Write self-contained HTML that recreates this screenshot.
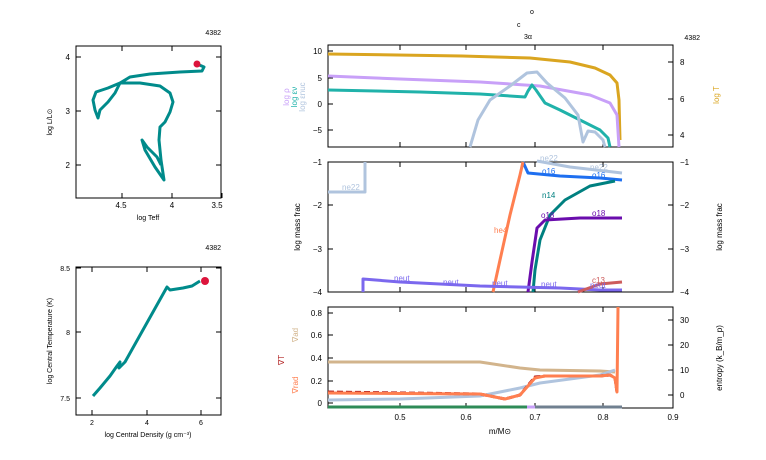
<!DOCTYPE html>
<html><head><meta charset="utf-8"><style>
html,body{margin:0;padding:0;background:#fff;}
svg{display:block;font-family:"Liberation Sans",sans-serif;}
</style></head><body>
<svg width="766" height="460" viewBox="0 0 766 460" xmlns="http://www.w3.org/2000/svg">
<g fill="none" stroke="#000" stroke-width="1">
<rect x="76" y="46" width="145" height="152"/>
<rect x="76" y="267" width="145" height="148"/>
<rect x="328" y="45" width="345" height="102"/>
<rect x="328" y="162" width="345" height="130"/>
<rect x="328" y="307" width="345" height="101"/>
<path d="M122,198v-5M172,198v-5M222,198v-5M76,57h5M76,111h5M76,165h5M221,57h-5M221,111h-5M221,165h-5M122,46v5M172,46v5"/>
<path d="M92,415v-5M147,415v-5M201,415v-5M76,268h5M76,332h5M76,398h5M221,268h-5M221,332h-5M221,398h-5M92,267v5M147,267v5M201,267v5"/>
<path d="M400,408v-5M466,408v-5M535,408v-5M603,408v-5M400,307v5M466,307v5M535,307v5M603,307v5M400,292v-5M466,292v-5M535,292v-5M603,292v-5M400,162v5M466,162v5M535,162v5M603,162v5M400,147v-5M466,147v-5M535,147v-5M603,147v-5M400,45v5M466,45v5M535,45v5M603,45v5"/>
<path d="M328,51h5M328,78h5M328,104h5M328,130h5M673,62h-5M673,99h-5M673,135h-5"/>
<path d="M328,205h5M328,249h5M673,205h-5M673,249h-5"/>
<path d="M328,313h5M328,335h5M328,358h5M328,381h5M328,403h5M673,320h-5M673,345h-5M673,370h-5M673,395h-5"/>
</g>
<g font-size="8" fill="#000">
<text x="121" y="208" text-anchor="middle">4.5</text><text x="172" y="208" text-anchor="middle">4</text><text x="217" y="208" text-anchor="middle">3.5</text>
<text x="70" y="60" text-anchor="end">4</text><text x="70" y="114" text-anchor="end">3</text><text x="70" y="168" text-anchor="end">2</text>
<text x="148" y="220" text-anchor="middle" font-size="7">log Teff</text>
<text x="52" y="122" font-size="7" transform="rotate(-90 52 122)" text-anchor="middle">log L/L⊙</text>
<text x="221" y="35" text-anchor="end" font-size="7">4382</text>
<text x="221" y="250" text-anchor="end" font-size="7">4382</text>
<text x="70" y="271" text-anchor="end" font-size="7">8.5</text><text x="70" y="335" text-anchor="end" font-size="7">8</text><text x="70" y="401" text-anchor="end" font-size="7">7.5</text>
<text x="92" y="425" text-anchor="middle" font-size="7">2</text><text x="147" y="425" text-anchor="middle" font-size="7">4</text><text x="201" y="425" text-anchor="middle" font-size="7">6</text>
<text x="148" y="437" text-anchor="middle" font-size="7">log Central Density (g cm⁻³)</text>
<text x="52" y="341" font-size="7" transform="rotate(-90 52 341)" text-anchor="middle">log Central Temperature (K)</text>
<text x="700" y="40" text-anchor="end" font-size="7">4382</text>
<text x="530" y="14" font-size="7">o</text><text x="517" y="27" font-size="7">c</text><text x="524" y="39" font-size="7">3α</text>
<text x="322" y="54" text-anchor="end">10</text><text x="322" y="81" text-anchor="end">5</text><text x="322" y="107" text-anchor="end">0</text><text x="322" y="133" text-anchor="end">−5</text>
<text x="680" y="65">8</text><text x="680" y="102">6</text><text x="680" y="138">4</text>
<text x="322" y="165" text-anchor="end">−1</text><text x="322" y="208" text-anchor="end">−2</text><text x="322" y="252" text-anchor="end">−3</text><text x="322" y="295" text-anchor="end">−4</text>
<text x="680" y="165">−1</text><text x="680" y="208">−2</text><text x="680" y="252">−3</text><text x="680" y="295">−4</text>
<text x="322" y="316" text-anchor="end">0.8</text><text x="322" y="338" text-anchor="end">0.6</text><text x="322" y="361" text-anchor="end">0.4</text><text x="322" y="384" text-anchor="end">0.2</text><text x="322" y="406" text-anchor="end">0</text>
<text x="680" y="323">30</text><text x="680" y="348">20</text><text x="680" y="373">10</text><text x="680" y="398">0</text>
<text x="400" y="420" text-anchor="middle">0.5</text><text x="466" y="420" text-anchor="middle">0.6</text><text x="535" y="420" text-anchor="middle">0.7</text><text x="603" y="420" text-anchor="middle">0.8</text><text x="673" y="420" text-anchor="middle">0.9</text>
<text x="500" y="434" text-anchor="middle">m/M⊙</text>
<text x="300" y="227" transform="rotate(-90 300 227)" text-anchor="middle">log mass frac</text>
<text x="722" y="227" transform="rotate(-90 722 227)" text-anchor="middle">log mass frac</text>
<text x="722" y="358" transform="rotate(-90 722 358)" text-anchor="middle">entropy (k_B/m_p)</text>
<text x="719" y="95" transform="rotate(-90 719 95)" text-anchor="middle" fill="#daa520">log T</text>
<text x="289" y="97" transform="rotate(-90 289 97)" text-anchor="middle" fill="#c8a0f8">log ρ</text>
<text x="297" y="97" transform="rotate(-90 297 97)" text-anchor="middle" fill="#20b2aa">log εν</text>
<text x="305" y="97" transform="rotate(-90 305 97)" text-anchor="middle" fill="#b0c4de">log εnuc</text>
<text x="298" y="335" transform="rotate(-90 298 335)" text-anchor="middle" fill="#d2b48c">∇ad</text>
<text x="284" y="360" transform="rotate(-90 284 360)" text-anchor="middle" fill="#b22222">∇T</text>
<text x="298" y="385" transform="rotate(-90 298 385)" text-anchor="middle" fill="#ff7f50">∇rad</text>
</g>
<g fill="none" stroke-width="3" stroke-linejoin="round">
<polyline stroke="#008b8b" points="197,64 204,67 202,71 180,72 150,74 130,77 120,83 108,88 96,92 93,100 95,110 98,118 100,110 108,102 115,93 120,83 140,83 160,86 170,93 173,102 170,112 165,122 160,127 159,140 161,160 164,180 155,167 145,150 142,140 147,147 157,157 161,165"/>
<polyline stroke="#008b8b" points="93,396 100,388 110,376 117,366 120,362 119,368 125,362 167,287 170,290 183,288 192,286 200,281"/>
<circle cx="197" cy="64" r="3.5" fill="#dc143c" stroke="none"/>
<circle cx="205" cy="281" r="4" fill="#dc143c" stroke="none"/>
<polyline stroke="#daa520" points="328,54 462,56 530,58 570,62 595,68 610,75 617,83 619,100 620,140"/>
<polyline stroke="#c8a0f8" points="328,76 400,79 480,82 540,86 590,95 610,103 617,115 619,147"/>
<polyline stroke="#20b2aa" points="328,90 420,92 480,94 525,97 528,91 532,85 536,90 545,103 560,110 580,120 600,130 608,138 610,147"/>
<polyline stroke="#b0c4de" points="470,147 478,120 490,100 510,86 527,73 537,72 547,83 565,98 578,115 583,142 588,131 595,132 603,140 605,147"/>
<polyline stroke="#b0c4de" points="328,192 365,192 365,162"/>
<polyline stroke="#b0c4de" points="537,161 570,167 622,173"/>
<polyline stroke="#1e6ff0" points="523,162 528,173 560,176 600,178 622,180"/>
<polyline stroke="#008080" points="533,292 535,270 540,240 550,215 565,200 590,186 615,181"/>
<polyline stroke="#6a0dad" points="528,292 532,262 537,228 545,220 580,218 622,218"/>
<polyline stroke="#ff7f50" points="493,292 500,260 510,215 520,175 523,162"/>
<polyline stroke="#7b68ee" points="363,292 363,279 400,282 480,286 560,288 600,290 622,290"/>
<polyline stroke="#cd5c5c" points="578,292 600,284 622,282"/>
<polyline stroke="#d2b48c" points="328,362 480,362 520,368 540,370 600,371 615,372"/>
<polyline stroke="#b0c4de" points="328,400 400,399 480,396 520,388 540,383 600,375 615,370"/>
<polyline stroke="#b22222" stroke-dasharray="6 3" points="328,392 480,394 505,399 520,395 535,377 545,376 600,376 610,375 615,378 617,392"/>
<polyline stroke="#ff7f50" points="328,393 480,394 505,399 520,395 535,378 545,376 600,376 610,375 615,378 617,392 618,307"/>
<polyline stroke="#2e8b57" points="328,407 527,407"/>
<polyline stroke="#c8a0f8" points="527,407 535,407"/>
<polyline stroke="#708090" points="535,407 622,407"/>
</g>
<g font-size="8">
<text x="342" y="190" fill="#b0c4de">ne22</text><text x="540" y="161" fill="#b0c4de">ne22</text><text x="590" y="170" fill="#b0c4de">ne22</text>
<text x="542" y="174" fill="#1e6ff0">o16</text><text x="592" y="178" fill="#1e6ff0">o16</text>
<text x="542" y="198" fill="#008080">n14</text>
<text x="541" y="218" fill="#6a0dad">o18</text><text x="592" y="216" fill="#6a0dad">o18</text>
<text x="494" y="233" fill="#ff7f50">he4</text>
<text x="394" y="281" fill="#7b68ee">neut</text><text x="443" y="285" fill="#7b68ee">neut</text><text x="492" y="286" fill="#7b68ee">neut</text><text x="541" y="287" fill="#7b68ee">neut</text><text x="590" y="288" fill="#7b68ee">neut</text>
<text x="592" y="283" fill="#cd5c5c">c13</text>
</g>
</svg>
</body></html>
